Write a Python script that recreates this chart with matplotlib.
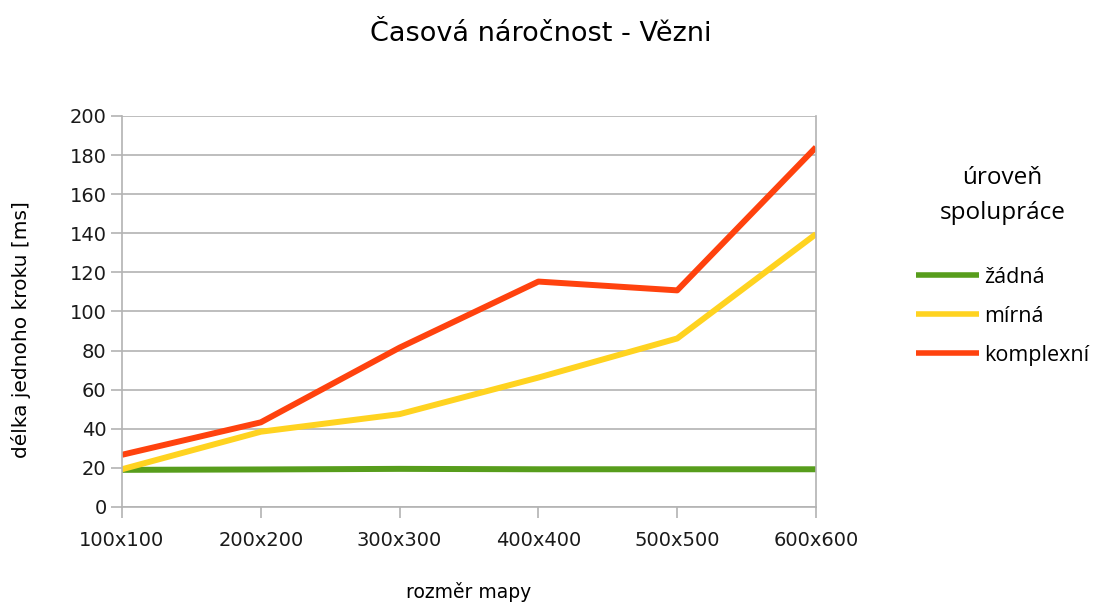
import matplotlib.pyplot as plt

# data
categories = ['100x100', '200x200', '300x300', '400x400', '500x500', '600x600']
zadna = [19.0, 19.2, 19.5, 19.3, 19.3, 19.3]
mirna = [19.3, 38.5, 47.5, 66.2, 86.2, 139.6]
komplexni = [26.7, 43.3, 81.5, 115.3, 110.8, 184.0]

fig = plt.figure(figsize=(10.95, 6.04), dpi=100)
ax = fig.add_axes([0.1114, 0.1606, 0.6338, 0.6474])

x = range(len(categories))
ax.plot(x, zadna, color='#579D1C', lw=4.3, label='žádná', solid_capstyle='butt')
ax.plot(x, mirna, color='#FFD320', lw=4.3, label='mírná', solid_capstyle='butt')
ax.plot(x, komplexni, color='#FF420E', lw=4.3, label='komplexní', solid_capstyle='butt')

ax.set_xlim(0, len(categories) - 1)
ax.set_ylim(0, 200)
ax.set_yticks(range(0, 201, 20))
ax.set_xticks(list(x))
ax.set_xticklabels(categories)

ax.grid(axis='y', color='#b3b3b3', lw=1.2)
ax.set_axisbelow(True)
for s in ax.spines.values():
    s.set_color('#b3b3b3')
    s.set_linewidth(1.2)
ax.spines['top'].set_visible(False)
ax.tick_params(axis='both', color='#b3b3b3', width=1.2, length=8,
               labelsize=14, labelcolor='#1a1a1a')
ax.tick_params(axis='x', pad=9)
ax.tick_params(axis='y', pad=3)
for lab in ax.get_xticklabels() + ax.get_yticklabels():
    lab.set_fontfamily('DejaVu Sans')

ax.set_xlabel('rozměr mapy', fontsize=13.5, labelpad=23, family='DejaVu Sans')
ax.set_ylabel('délka jednoho kroku [ms]', fontsize=14.5, family='DejaVu Sans')
ax.yaxis.set_label_coords(-0.131, 0.454)
fig.suptitle('Časová náročnost - Vězni', x=0.494, y=0.965, fontsize=19.5, family='DejaVu Sans')

leg = fig.legend(title='úroveň\nspolupráce', loc='upper left', bbox_to_anchor=(0.819, 0.757),
                 frameon=False, prop={'family': 'Open Sans', 'size': 15.5},
                 handlelength=2.9, handletextpad=0.25, labelspacing=0.84)
leg.get_title().set_fontfamily('Open Sans')
leg.get_title().set_fontsize(17.5)
leg.get_title().set_multialignment('center')
leg.get_title().set_linespacing(1.6)
leg._legend_box.sep = 30
for h in leg.get_lines():
    h.set_linewidth(4)

fig.savefig('out.png', dpi=100)
